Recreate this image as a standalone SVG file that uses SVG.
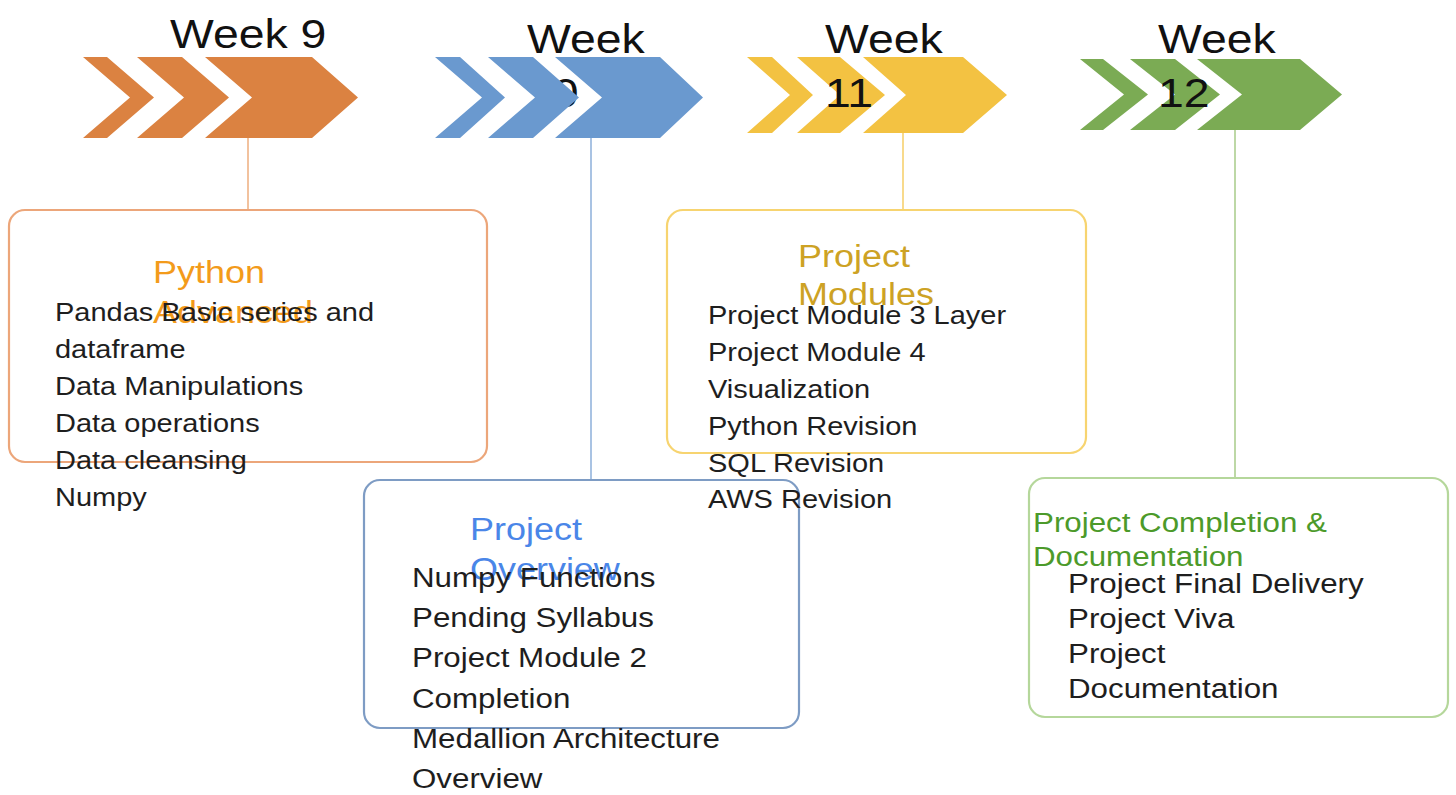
<svg xmlns="http://www.w3.org/2000/svg" width="1456" height="795" viewBox="0 0 1456 795">
<style>
text{font-family:"Liberation Sans",Arial,sans-serif}
.wk{font-size:40px;fill:#111}
.body25{font-size:25px;fill:#1e1e1e}
.body27{font-size:27px;fill:#1e1e1e}
.t31{font-size:31px}
.t27{font-size:27px}
.box{fill:#fff;stroke-width:2.2}
.conn{stroke-width:2;fill:none}
</style>
<rect width="1456" height="795" fill="#fff"/>
<g id="connectors">
<line class="conn" x1="248" y1="138" x2="248" y2="210" stroke="#F2C29E"/>
<line class="conn" x1="591" y1="138" x2="591" y2="480" stroke="#A9C3E3"/>
<line class="conn" x1="903" y1="133" x2="903" y2="210" stroke="#F8DA8C"/>
<line class="conn" x1="1235" y1="130" x2="1235" y2="478" stroke="#BDD8A6"/>
</g>
<g id="week9">
<g fill="#DB8241">
<path d="M83,57 L107,57 L154,97.5 L107,138 L83,138 L130,97.5 Z"/>
<path d="M137,57 L182,57 L229,97.5 L182,138 L137,138 L184,97.5 Z"/>
<path d="M205,57 L312,57 L358,97.5 L312,138 L205,138 L252,97.5 Z"/>
</g>
<text class="wk" transform="translate(170,48) scale(1.16,1)">Week 9</text>
</g>
<g id="week10">
<text class="wk" transform="translate(527,53) scale(1.16,1)"><tspan x="0" y="0">Week</tspan><tspan x="0" dy="54">10</tspan></text>
<g fill="#6A99CF">
<path d="M435,57 L460,57 L505,97.5 L460,138 L435,138 L482,97.5 Z"/>
<path d="M488,57 L533,57 L579,97.5 L533,138 L488,138 L535,97.5 Z"/>
<path d="M555,57 L660,57 L703,97.5 L660,138 L555,138 L602,97.5 Z"/>
</g>
</g>
<g id="week11">
<g fill="#F3C242">
<path d="M747,57 L772,57 L813,95 L772,133 L747,133 L790,95 Z"/>
<path d="M797,57 L840,57 L885,95 L840,133 L797,133 L840,95 Z"/>
<path d="M863,57 L963,57 L1007,95 L963,133 L863,133 L906,95 Z"/>
</g>
<text class="wk" transform="translate(825,53) scale(1.16,1)"><tspan x="0" y="0">Week</tspan><tspan x="0" dy="54">11</tspan></text>
</g>
<g id="week12">
<g fill="#7BAB54">
<path d="M1080,59 L1103,59 L1148,94.5 L1103,130 L1080,130 L1124,94.5 Z"/>
<path d="M1130,59 L1175,59 L1220,94.5 L1175,130 L1130,130 L1175,94.5 Z"/>
<path d="M1197,59 L1300,59 L1342,94.5 L1300,130 L1197,130 L1242,94.5 Z"/>
</g>
<text class="wk" transform="translate(1158,53) scale(1.16,1)"><tspan x="0" y="0">Week</tspan><tspan x="0" dy="54">12</tspan></text>
</g>
<g id="python-advanced">
<rect class="box" x="9" y="210" width="478" height="252" rx="16" stroke="#ECA67A"/>
<text class="t31" fill="#F39B1B" transform="translate(153,283) scale(1.16,1)"><tspan x="0" y="0">Python</tspan><tspan x="0" dy="40">Advanced</tspan></text>
<text class="body25" transform="translate(55,321) scale(1.16,1)"><tspan x="0" y="0">Pandas Basic series and</tspan><tspan x="0" dy="37">dataframe</tspan><tspan x="0" dy="37">Data Manipulations</tspan><tspan x="0" dy="37">Data operations</tspan><tspan x="0" dy="37">Data cleansing</tspan><tspan x="0" dy="37">Numpy</tspan></text>
</g>
<g id="project-overview">
<rect class="box" x="364" y="480" width="435" height="248" rx="16" stroke="#7E9CC4"/>
<text class="t31" fill="#4A86E8" transform="translate(470,540) scale(1.16,1)"><tspan x="0" y="0">Project</tspan><tspan x="0" dy="40">Overview</tspan></text>
<text class="body27" transform="translate(412,587) scale(1.16,1)"><tspan x="0" y="0">Numpy Functions</tspan><tspan x="0" dy="40.2">Pending Syllabus</tspan><tspan x="0" dy="40.2">Project Module 2</tspan><tspan x="0" dy="40.2">Completion</tspan><tspan x="0" dy="40.2">Medallion Architecture</tspan><tspan x="0" dy="40.2">Overview</tspan></text>
</g>
<g id="project-modules">
<rect class="box" x="667" y="210" width="419" height="243" rx="16" stroke="#F7D470"/>
<text class="t31" fill="#CDA224" transform="translate(798,267) scale(1.16,1)"><tspan x="0" y="0">Project</tspan><tspan x="0" dy="38">Modules</tspan></text>
<text class="body25" transform="translate(708,324) scale(1.16,1)"><tspan x="0" y="0">Project Module 3 Layer</tspan><tspan x="0" dy="36.9">Project Module 4</tspan><tspan x="0" dy="36.9">Visualization</tspan><tspan x="0" dy="36.9">Python Revision</tspan><tspan x="0" dy="36.9">SQL Revision</tspan><tspan x="0" dy="36.9">AWS Revision</tspan></text>
</g>
<g id="project-completion">
<rect class="box" x="1029" y="478" width="419" height="239" rx="16" stroke="#B5D79B"/>
<text class="t27" fill="#4C9A2A" transform="translate(1033,532) scale(1.16,1)"><tspan x="0" y="0">Project Completion &amp;</tspan><tspan x="0" dy="34">Documentation</tspan></text>
<text class="body27" transform="translate(1068,593) scale(1.16,1)"><tspan x="0" y="0">Project Final Delivery</tspan><tspan x="0" dy="35">Project Viva</tspan><tspan x="0" dy="35">Project</tspan><tspan x="0" dy="35">Documentation</tspan></text>
</g>
</svg>
